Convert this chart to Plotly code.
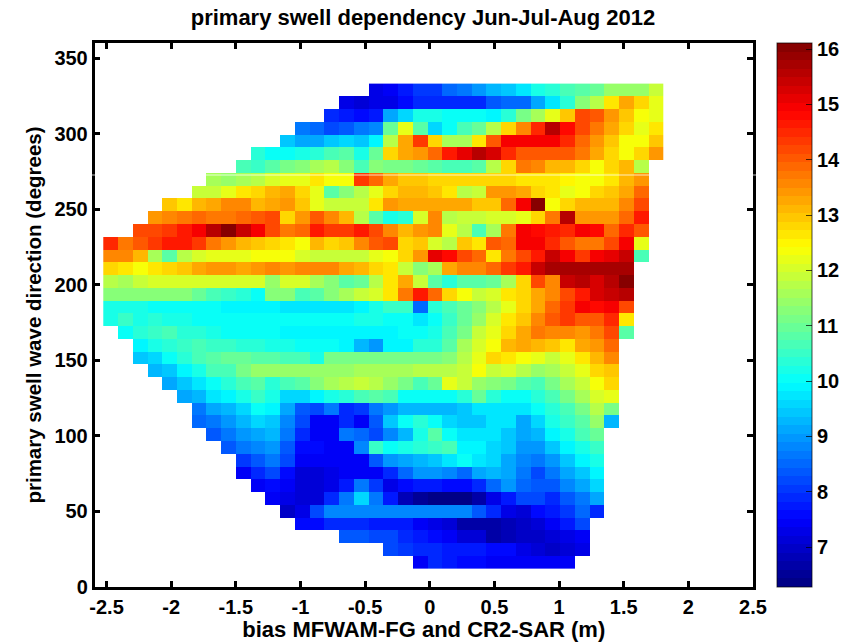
import plotly.graph_objects as go

# first occupied direction/bias bin of every row, top row (highest direction) first
first_bin = [18,16,15,13,12,10,9,7,6,4,3,2,0,0,0,0,0,0,0,1,2,2,3,4,5,6,6,7,8,9,9,10,11,12,13,16,19,21]

swell_rows = [
 [7.35,7.45,7.8,8.0,8.1,8.5,8.6,8.95,9.35,9.4,9.8,10.2,10.3,10.6,10.75,11.0,11.4,11.4,11.4,11.9],
 [7.3,7.2,7.25,7.3,7.65,7.85,7.85,7.95,7.95,7.95,8.4,8.45,8.5,9.15,9.75,10.4,11.2,11.8,12.7,13.2,12.75,12.2],
 [7.95,7.75,7.6,7.75,9.15,9.65,10.15,10.15,10.1,10.0,10.0,9.9,10.3,11.1,11.65,12.2,13.0,14.15,14.0,13.45,13.0,12.4,12.15],
 [8.7,8.55,8.2,8.4,8.6,8.85,10.95,12.25,10.75,9.6,10.05,10.6,11.0,11.8,12.8,13.6,14.5,15.5,14.75,14.25,13.8,13.2,12.8,12.2,12.65],
 [9.45,9.15,9.15,9.4,9.65,9.4,9.9,11.75,13.2,14.4,12.75,11.65,11.65,12.65,14.1,14.9,14.9,14.9,14.9,14.45,13.9,13.45,13.0,12.4,12.4,13.0],
 [10.3,10.0,10.0,10.15,10.3,10.65,10.75,10.15,10.95,12.75,13.25,13.45,13.9,14.6,15.15,15.6,15.25,14.5,14.0,14.0,14.0,14.1,13.7,13.2,12.8,12.4,12.75,13.4],
 [10.65,10.5,10.75,11.1,11.3,11.6,11.75,11.3,10.6,11.3,11.15,11.15,11.0,10.85,10.65,10.6,10.75,11.8,12.75,13.7,13.5,13.15,13.15,12.85,12.4,12.8,13.15,11.8],
 [11.6,11.45,11.55,11.75,12.05,12.15,12.25,12.65,12.4,12.4,14.4,13.95,13.25,13.0,13.0,12.85,12.85,12.85,12.75,12.75,12.75,12.6,12.6,12.6,12.45,12.4,12.4,12.65,13.05,13.45],
 [11.95,11.95,12.2,12.65,12.85,13.1,13.2,12.8,12.15,10.75,11.2,11.7,12.25,12.75,13.15,13.15,12.95,12.65,11.8,11.95,13.4,13.4,13.2,12.85,12.65,12.25,12.4,12.75,12.9,13.25,13.95],
 [12.9,12.7,13.05,13.2,13.5,13.65,13.05,13.2,13.35,12.9,12.15,11.85,11.85,11.85,12.6,13.35,13.3,13.3,13.3,13.3,13.3,12.9,13.0,13.9,14.9,16.1,12.4,12.75,13.1,13.1,13.15,13.6,14.25],
 [13.45,13.6,13.75,13.9,13.8,13.8,13.95,14.1,14.25,12.75,13.45,14.1,13.6,13.1,11.8,10.75,10.2,10.4,12.1,13.65,11.8,11.95,11.95,12.05,12.1,12.2,12.75,13.75,15.5,13.45,13.45,13.45,13.9,14.7],
 [14.25,14.25,14.4,14.6,14.9,15.5,16.0,15.4,14.9,14.25,13.8,13.9,14.65,14.4,14.4,14.6,14.25,13.5,13.15,13.45,13.65,12.25,11.75,10.65,11.6,13.75,14.9,14.8,14.65,14.45,14.9,14.8,13.85,14.5,14.0],
 [14.5,13.75,14.1,14.4,14.7,14.6,14.3,13.8,13.4,13.05,12.95,12.75,12.6,12.4,13.1,12.75,13.0,13.65,14.1,14.25,12.75,12.95,12.1,11.8,13.0,12.6,14.1,13.9,14.9,14.9,14.45,14.1,13.75,13.75,14.25,14.9,12.2],
 [13.65,13.5,13.1,11.6,10.75,11.8,12.05,12.25,12.25,12.25,12.4,12.4,12.4,12.1,11.95,11.95,11.95,11.9,12.2,12.4,12.8,13.45,15.15,14.75,14.15,13.95,12.6,13.75,14.25,14.7,15.4,14.95,14.4,14.9,15.1,15.35,10.6],
 [12.85,12.65,12.4,12.65,12.8,13.0,13.25,13.35,13.35,13.2,13.35,13.5,13.35,13.55,13.55,13.55,13.2,13.1,12.8,12.6,11.9,11.2,11.55,13.2,13.6,13.6,13.95,14.3,14.65,15.4,15.65,15.65,15.65,15.65,15.65,15.65],
 [11.8,11.6,11.85,12.0,12.1,12.1,12.1,12.1,12.1,12.1,12.1,11.5,12.05,12.1,11.6,11.2,10.75,11.0,11.8,12.65,13.2,11.95,10.75,10.4,10.75,10.75,10.9,11.55,12.75,14.25,13.6,15.4,15.55,15.3,15.55,16.05],
 [11.2,11.2,11.3,11.3,11.3,11.3,11.0,10.6,10.5,10.3,10.0,11.2,11.2,10.65,10.75,11.2,11.6,11.95,12.1,12.6,13.8,14.6,13.95,12.85,12.4,11.95,12.1,12.65,12.85,13.25,13.6,14.25,14.7,15.3,15.4,15.6],
 [10.2,10.2,10.15,10.0,10.0,10.0,10.0,10.0,9.85,9.85,9.85,9.85,9.7,9.7,9.7,9.7,9.7,9.85,10.2,10.55,10.55,8.55,10.3,10.6,11.0,11.2,11.8,12.2,12.85,13.2,13.9,14.4,14.9,14.8,14.95,14.25],
 [10.15,10.45,10.25,10.3,10.15,10.15,10.0,10.0,10.0,10.1,10.1,10.1,10.1,10.1,10.1,10.1,10.1,10.25,10.25,10.0,10.0,9.75,10.0,10.45,11.0,11.4,12.1,12.65,13.0,13.6,14.1,14.3,14.1,14.1,14.5,12.65],
 [10.0,10.3,10.45,10.65,10.4,10.4,10.25,10.1,10.1,10.0,10.0,9.9,9.9,9.9,9.9,9.9,9.9,9.9,9.9,10.0,10.0,10.15,10.65,11.15,11.95,12.2,12.75,13.25,13.8,13.6,13.5,13.35,13.8,14.2,10.85],
 [9.9,10.15,10.35,10.45,10.65,10.55,10.55,10.3,10.3,10.15,10.15,10.05,10.05,10.0,9.9,9.2,8.95,9.9,9.9,10.3,10.4,10.75,11.55,12.05,12.4,13.05,13.3,13.05,12.9,12.6,13.2,13.4,13.9],
 [9.4,9.65,10.0,10.35,10.65,10.85,11.0,11.0,10.8,10.8,10.7,10.7,10.15,11.1,11.1,11.1,11.05,11.05,11.05,11.1,11.15,11.2,11.8,12.15,12.75,12.65,12.4,12.25,11.95,12.25,12.6,13.15,13.6],
 [9.35,9.5,9.9,10.2,10.6,10.7,11.05,11.35,11.35,11.35,11.5,11.5,11.5,11.5,11.65,11.65,11.6,11.6,11.75,11.75,11.75,11.9,12.4,11.95,12.0,11.8,11.45,11.55,11.95,12.25,12.75,13.0],
 [9.15,9.45,9.75,10.0,10.35,10.65,10.8,10.3,10.65,10.85,11.2,11.55,11.75,11.95,11.8,11.45,11.05,10.7,10.9,12.25,11.9,11.35,11.2,11.05,10.75,10.7,11.05,11.55,11.95,12.4,12.75],
 [9.05,9.35,9.7,9.9,10.15,10.45,10.2,9.6,9.6,9.9,10.2,10.3,10.6,10.85,10.6,10.0,10.0,10.0,10.0,10.3,10.95,10.4,10.1,10.0,10.4,10.65,11.1,11.65,12.0,12.25],
 [8.7,9.05,9.35,9.6,10.0,9.95,9.15,8.4,8.25,8.6,7.9,8.05,8.65,8.95,9.35,9.35,9.35,9.35,9.5,9.75,9.75,9.75,9.75,10.0,10.4,10.65,11.1,11.75,11.15],
 [8.55,8.65,8.95,9.25,9.65,9.5,8.85,8.2,7.4,7.4,7.85,7.4,8.4,9.5,10.0,10.4,10.0,9.65,9.4,9.4,9.7,9.7,9.15,9.65,10.15,10.45,10.85,11.45,9.3],
 [8.4,8.7,8.9,9.15,9.2,8.6,7.85,7.4,7.4,8.7,8.55,8.15,8.85,9.35,10.2,10.75,10.1,9.75,9.75,9.75,9.5,9.15,9.35,9.95,10.25,10.6,11.0],
 [8.3,8.6,8.75,9.0,8.3,7.65,7.55,7.5,7.5,8.75,10.45,10.0,10.15,10.35,10.5,10.6,9.95,9.95,9.65,9.4,8.95,8.95,9.5,9.9,10.25,10.55],
 [8.05,8.4,8.65,8.15,7.5,7.4,7.5,7.5,7.5,8.4,9.0,9.1,9.25,9.5,9.75,10.0,9.8,9.6,9.1,8.75,8.65,8.95,9.5,9.9,10.2],
 [7.45,7.85,8.15,7.65,7.2,7.15,7.25,7.4,7.4,7.4,7.85,8.5,8.95,8.95,8.75,8.55,9.1,9.35,9.05,8.65,8.25,8.6,9.1,9.5,9.95],
 [7.5,7.65,7.4,7.15,7.15,7.25,7.75,8.6,8.05,7.25,7.65,7.8,7.7,7.55,7.55,7.85,8.5,8.95,8.55,8.35,8.35,8.8,9.15,9.55],
 [7.5,7.25,7.15,7.15,7.95,8.7,9.65,8.7,7.8,6.85,6.5,6.35,6.3,6.3,6.65,7.35,7.75,8.2,8.2,7.95,8.35,8.7,9.1],
 [6.95,7.3,8.2,8.75,8.75,8.75,8.75,8.75,8.75,8.75,8.75,8.75,8.75,8.3,7.85,7.35,7.15,7.55,7.7,8.05,8.5,7.95],
 [7.65,7.65,7.85,7.85,7.85,7.8,7.8,7.8,7.45,7.25,7.05,6.7,6.7,6.7,6.8,6.9,7.2,7.5,7.8,8.15],
 [8.3,8.3,8.15,8.15,7.95,7.75,7.55,7.5,7.2,7.2,6.6,6.75,6.95,6.95,7.15,7.3,7.45],
 [8.15,8.0,7.9,7.9,7.8,7.8,7.8,7.65,7.65,7.35,7.15,7.0,7.15,7.3],
 [7.5,7.85,7.75,7.6,7.6,7.5,7.5,7.4,7.4,7.4,7.4],
]

n_bins = 38
x_ticks = [-2.5,-2,-1.5,-1,-0.5,0,0.5,1,1.5,2,2.5]
x_tick_labels = ["-2.5","-2","-1.5","-1","-0.5","0","0.5","1","1.5","2","2.5"]
y_ticks = [0,50,100,150,200,250,300,350]
cb_ticks = [7,8,9,10,11,12,13,14,15,16]

BIAS_START, BIAS_STEP = -2.525, 0.114
DIR_START, DIR_STEP = 12.4, 8.44
Z_MIN, Z_MAX = 6.28, 16.11

# bottom row first for the heatmap
z = []
for start, vals in zip(first_bin[::-1], swell_rows[::-1]):
    z.append([None]*start + vals + [None]*(n_bins-start-len(vals)))

def jet(t):
    c = lambda v: int(round(255*max(0, min(1, v))))
    return f"rgb({c(1.5-abs(4*t-3))},{c(1.5-abs(4*t-2))},{c(1.5-abs(4*t-1))})"

N = 64
scale = []
for i in range(N):
    col = jet((i+0.5)/N)
    scale += [[i/N, col], [(i+1)/N, col]]

W, H = 857, 642
L, R, T, B = 94.5, 753, 43, 587
CB_L = 777.3
FONT = "Liberation Sans"
tick_font = dict(family=FONT, size=20, color="black", weight=700)

fig = go.Figure(go.Heatmap(
    z=z, x0=BIAS_START+BIAS_STEP/2, dx=BIAS_STEP, y0=DIR_START+DIR_STEP/2, dy=DIR_STEP,
    colorscale=scale, zmin=Z_MIN, zmax=Z_MAX, hoverongaps=False,
    colorbar=dict(
        x=CB_L/W, xanchor="left", xpad=0, y=(H-B)/H, yanchor="bottom", ypad=0,
        lenmode="pixels", len=B-T, thicknessmode="pixels", thickness=34.5,
        tickmode="array", tickvals=cb_ticks, ticktext=[str(v) for v in cb_ticks],
        ticks="inside", ticklen=6, tickwidth=1, tickcolor="rgba(0,0,0,0.7)",
        tickfont=tick_font, outlinecolor="rgba(0,0,0,0.7)", outlinewidth=1),
))

axis_common = dict(showline=True, linecolor="black", linewidth=2.5, mirror="ticks",
                   ticks="inside", ticklen=6, tickwidth=2.5, tickcolor="black",
                   showgrid=False, zeroline=False, tickfont=tick_font, tickmode="array",
                   automargin=False)

# mirrored colourbar ticks on its left edge, placed from the tick values
cb_left_ticks = []
for v in cb_ticks:
    yp = ((H-B) + (v-Z_MIN)/(Z_MAX-Z_MIN)*(B-T))/H
    cb_left_ticks.append(dict(type="line", xref="paper", yref="paper", x0=CB_L/W, x1=(CB_L+6)/W,
                              y0=yp, y1=yp, line=dict(color="rgba(0,0,0,0.7)", width=1), layer="above"))

fig.update_layout(
    width=W, height=H, margin=dict(l=0, r=0, t=0, b=0),
    paper_bgcolor="white", plot_bgcolor="white", font=dict(family=FONT, color="black"),
    title=dict(text="primary swell dependency Jun-Jul-Aug 2012", x=423/W, xanchor="center",
               xref="paper", y=1-17/H, yref="container", yanchor="middle",
               font=dict(family=FONT, size=22, color="black", weight=700)),
    xaxis=dict(axis_common, domain=[L/W, R/W], range=[-2.593, 2.5],
               tickvals=x_ticks, ticktext=x_tick_labels, tickangle=0,
               title=dict(text="bias MFWAM-FG and CR2-SAR (m)", standoff=8,
                          font=dict(family=FONT, size=22, color="black", weight=700))),
    yaxis=dict(axis_common, domain=[(H-B)/H, (H-T)/H], range=[0, 360],
               tickvals=y_ticks, ticktext=[str(v) for v in y_ticks],
               title=dict(text="primary swell wave direction (degrees)", standoff=8,
                          font=dict(family=FONT, size=20.5, color="black", weight=700))),
    shapes=cb_left_ticks + [dict(type="line", xref="paper", yref="paper", x0=0, x1=1,
                 y0=(H-175)/H, y1=(H-175)/H, line=dict(color="rgba(255,255,255,0.75)", width=1),
                 layer="above")],
)

fig.write_html("out.html", config={"displayModeBar": False},
               post_script="document.body.style.margin='0';document.body.style.overflow='hidden';")
